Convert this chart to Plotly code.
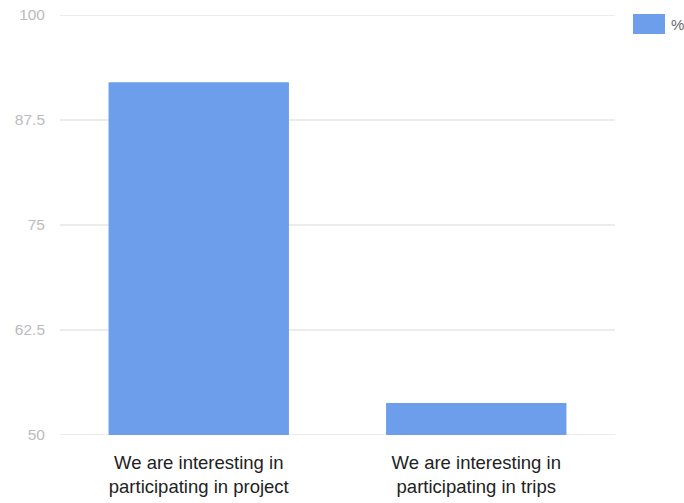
import plotly.graph_objects as go

categories = ["We are interesting in<br>participating in project",
              "We are interesting in<br>participating in trips"]
values = [92.0, 53.8]
series_name = "%"
y_ticks = [50, 62.5, 75, 87.5, 100]
y_tick_labels = ["50", "62.5", "75", "87.5", "100"]

bar_color = "#6d9eeb"
grid_color = "#d9d9d9"
FONT = "Liberation Sans, Arial, sans-serif"

# plot area at x 60-615, y 15-435
L, T = 60, 15
PW, PH = 555, 420
W, H = 684, 503

fig = go.Figure()
fig.add_trace(go.Bar(x=categories, y=values, name=series_name,
                     marker=dict(color=bar_color, line=dict(width=0)),
                     showlegend=False))

# gridlines at every y tick (drawn as shapes so the edge lines at 50 and 100 show)
grid_shapes = [dict(type="line", xref="paper", yref="y", x0=0, x1=1, y0=t, y1=t,
                    line=dict(color=grid_color, width=1), layer="below")
               for t in y_ticks]

fig.update_layout(
    width=W, height=H,
    margin=dict(l=L, r=W - L - PW, t=T, b=H - T - PH, autoexpand=False),
    paper_bgcolor="white", plot_bgcolor="white",
    bargap=0.35,
    font=dict(family=FONT),
    xaxis=dict(showgrid=False, showline=False, ticks="", automargin=False,
               tickfont=dict(size=18.5, color="#222222", family=FONT),
               ticklabelstandoff=14, ticklabeloverflow="allow"),
    yaxis=dict(range=[50, 100], tickvals=y_ticks, ticktext=y_tick_labels,
               showgrid=False, zeroline=False, showline=False, ticks="",
               automargin=False,
               tickfont=dict(size=15.5, color="#bbbbbb", family=FONT),
               ticklabelstandoff=14, ticklabeloverflow="allow"),
    shapes=grid_shapes + [dict(type="rect", xref="paper", yref="paper",
                 x0=(633 - L) / PW, x1=(665 - L) / PW,
                 y0=(435 - 34) / PH, y1=(435 - 14) / PH,
                 fillcolor=bar_color, line=dict(width=0))],
    annotations=[dict(text=series_name, xref="paper", yref="paper",
                      x=(669 - L) / PW, y=(435 - 24) / PH,
                      xanchor="left", yanchor="middle", showarrow=False,
                      font=dict(size=15, color="#666666", family=FONT))],
)

fig.write_html("out.html", config={"displayModeBar": False},
               post_script="document.body.style.margin='0';")
